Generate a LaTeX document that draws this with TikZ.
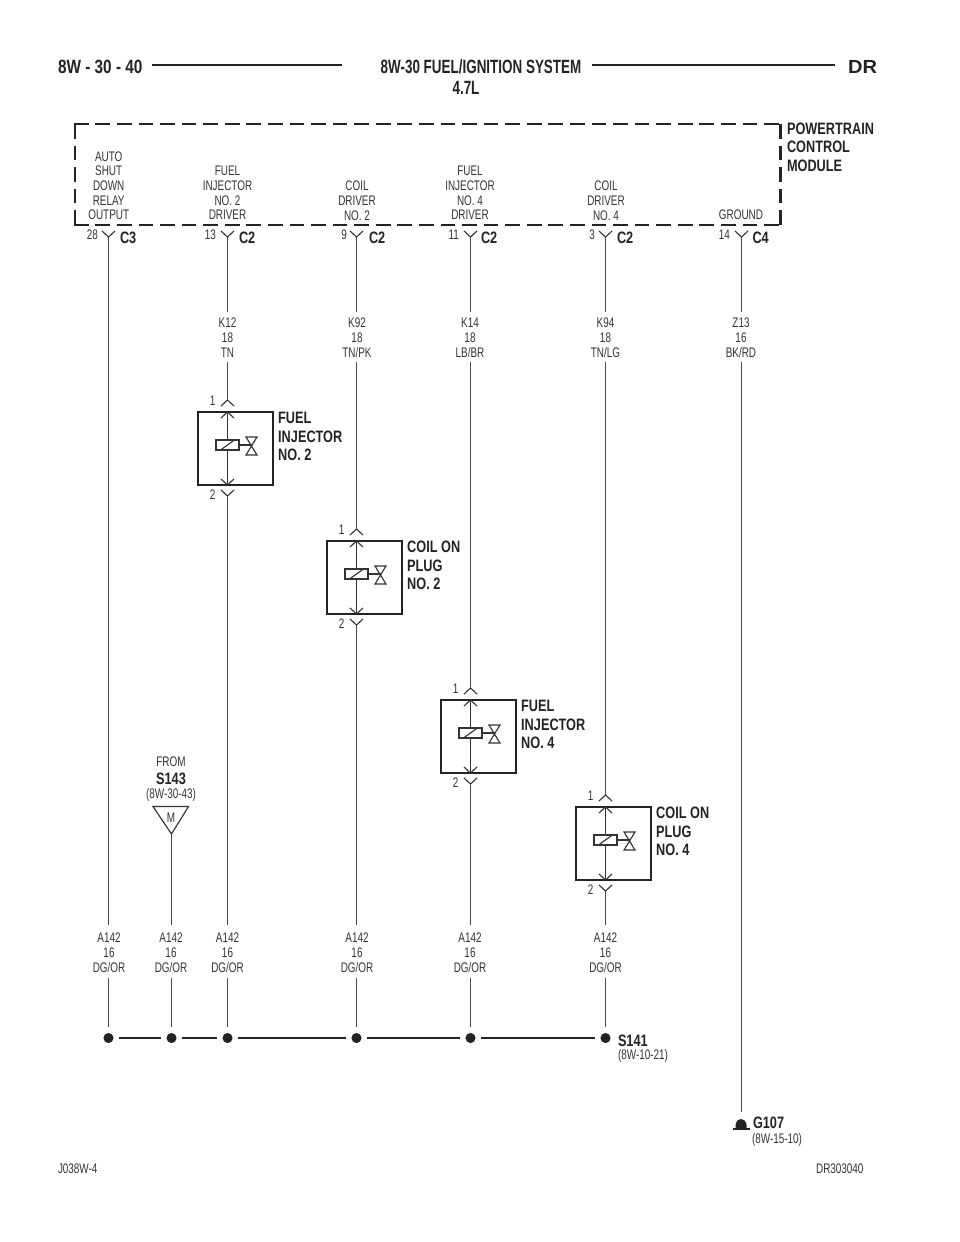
\documentclass[tikz,border=0pt]{standalone}
\usepackage{fontspec}
\setmainfont{Liberation Sans}
\newfontfamily\condfont[FakeStretch=0.77]{Liberation Sans}
\newfontfamily\plainfont[FakeStretch=0.715]{Liberation Sans}
\newfontfamily\titlefont[FakeStretch=0.70]{Liberation Sans}
\newfontfamily\pagefont[FakeStretch=0.80]{Liberation Sans}
\newfontfamily\widefont[FakeStretch=1.06]{Liberation Sans}
\definecolor{inkdark}{HTML}{232323}
\definecolor{inkgrey}{HTML}{333333}
\definecolor{wiregrey}{HTML}{4A4A4A}
\tikzset{
  txt/.style={inner sep=0pt,outer sep=0pt,align=center,text=inkgrey,font=\plainfont\fontsize{10.4pt}{11pt}\selectfont},
  pinlab/.style={inner sep=0pt,outer sep=0pt,anchor=east,text=inkgrey,font=\plainfont\fontsize{10.4pt}{11pt}\selectfont},
  bold/.style={inner sep=0pt,outer sep=0pt,align=left,anchor=west,text=inkdark,font=\condfont\bfseries\fontsize{12.4pt}{13.8pt}\selectfont},
  title/.style={inner sep=0pt,outer sep=0pt,text=inkdark,font=\titlefont\bfseries\fontsize{14.4pt}{16pt}\selectfont},
  small/.style={inner sep=0pt,outer sep=0pt,anchor=west,text=inkgrey,font=\plainfont\fontsize{10.4pt}{11pt}\selectfont},
  wire/.style={draw=wiregrey,line width=1.4pt},
  thin part/.style={draw=inkgrey,line width=.85pt},
  devbox/.style={draw=inkdark,line width=1.6pt},
  headline/.style={draw=inkdark,line width=1.7pt},
  busline/.style={draw=inkdark,line width=1.8pt},
  modbox/.style={draw=inkdark,line width=1.9pt,dash pattern=on 11.03pt off 5.15pt},
  dot/.style={circle,fill=inkdark,draw=none,minimum size=7.6pt,inner sep=0pt},
  splicebus/.style={busline,shorten <=4pt,shorten >=4pt}
}
% module connector: name, wire x, pin, connector label x, pin right end, connector name
\newcommand\modconn[6]{%
  \coordinate (#1) at (#2,237);
  \draw[thin part] (#2-6.5,231) -- (#1) -- (#2+6.5,231);
  \node[pinlab] (#1pin) at (#5,235) {#3};
  \node[bold] (#1conn) at (#4,237.5) {#6};
}
% device: name, wire x, box top, label
\newcommand\device[4]{%
  \pgfmathsetmacro\dl{#2-29.5}\pgfmathsetmacro\dr{#2+45.5}\pgfmathsetmacro\db{#3+73}
  \coordinate (#1in) at (#2,#3-12);
  \coordinate (#1out) at (#2,#3+84);
  \coordinate (#1t) at (#2,#3);
  \coordinate (#1b) at (#2,\db);
  \draw[devbox] (\dl,#3) rectangle (\dr,\db);
  \draw[thin part] (#2-6.5,#3-6) -- (#1in) -- (#2+6.5,#3-6);
  \draw[thin part] (#2-6.5,#3+78) -- (#1out) -- (#2+6.5,#3+78);
  \draw[thin part] (#1t) -- (#1b);
  \draw[thin part] (#2-6.5,#3+6) -- (#1t) -- (#2+6.5,#3+6);
  \draw[thin part] (#2-6.5,#3+67) -- (#1b) -- (#2+6.5,#3+67);
  \draw[thin part,fill=white] (#2-11.5,#3+28) rectangle (#2+11.5,#3+38);
  \draw[thin part] (#2-7,#3+38) -- (#2+7,#3+28);
  \draw[thin part] (#2+11.5,#3+33) -- (#2+24,#3+33);
  \draw[thin part] (#2+18.5,#3+25) -- (#2+29.5,#3+25) -- (#2+18.5,#3+43) -- (#2+29.5,#3+43) -- cycle;
  \node[pinlab] (#1p1) at (#2-12,#3-11) {1};
  \node[pinlab] (#1p2) at (#2-12,#3+83) {2};
  \node[bold] (#1lab) at (#2+50.7,#3+24.5) {#4};
}
\begin{document}
\begin{tikzpicture}[x=.75pt,y=-.75pt]
\useasboundingbox (0,0) rectangle (960,1242);
% header
\node[title,anchor=west,font=\pagefont\bfseries\fontsize{14.4pt}{16pt}\selectfont] (hpage) at (58,66.5) {8W - 30 - 40};
\node[title] (htitle) at (481,66.5) {8W-30 FUEL/IGNITION SYSTEM};
\node[title] (hsub) at (466,88) {4.7L};
\node[inner sep=0pt,outer sep=0pt,anchor=west,text=inkdark,font=\widefont\bfseries\fontsize{14.2pt}{16pt}\selectfont] (hdr) at (848,66.5) {DR};
\coordinate (hl1a) at (152,65); \coordinate (hl1b) at (342,65);
\coordinate (hl2a) at (592,65); \coordinate (hl2b) at (835,65);
\draw[headline] (hl1a) -- (hl1b);
\draw[headline] (hl2a) -- (hl2b);
% module
\coordinate (ma) at (75,124); \coordinate (mb) at (780.5,124);
\coordinate (mc) at (780.5,225); \coordinate (md) at (75,225);
\draw[modbox] (73.8,124) -- (781.7,124);
\draw[modbox] (73.8,225) -- (781.7,225);
\draw[modbox] (ma) -- (md);
\draw[modbox] (mb) -- (mc);
\node[bold,anchor=north west] (pcm) at (787,123) {POWERTRAIN\\CONTROL\\MODULE};
\node[txt] (f1) at (108.7,185.6) {AUTO\\SHUT\\DOWN\\RELAY\\OUTPUT};
\node[txt] (f2) at (227.5,193) {FUEL\\INJECTOR\\NO. 2\\DRIVER};
\node[txt] (f3) at (357,200.6) {COIL\\DRIVER\\NO. 2};
\node[txt] (f4) at (470,193) {FUEL\\INJECTOR\\NO. 4\\DRIVER};
\node[txt] (f5) at (606,200.6) {COIL\\DRIVER\\NO. 4};
\node[txt] (f6) at (741,215) {GROUND};
% connectors at module
\modconn{ca}{108.5}{28}{120}{98}{C3}
\modconn{cb}{227.5}{13}{239}{216}{C2}
\modconn{cc}{356.5}{9}{369}{347}{C2}
\modconn{cd}{470.5}{11}{481}{459}{C2}
\modconn{ce}{605.5}{3}{617}{595}{C2}
\modconn{cf}{741.5}{14}{752.5}{730}{C4}
% upper wire labels
\node[txt] (wb) at (227.5,337.7) {K12\\18\\TN};
\node[txt] (wc) at (357,337.7) {K92\\18\\TN/PK};
\node[txt] (wd) at (470,337.7) {K14\\18\\LB/BR};
\node[txt] (we) at (605.5,337.7) {K94\\18\\TN/LG};
\node[txt] (wf) at (741,337.7) {Z13\\16\\BK/RD};
% devices
\device{dia}{227.5}{412}{FUEL\\INJECTOR\\NO. 2}
\device{dib}{356.5}{541}{COIL ON\\PLUG\\NO. 2}
\device{dic}{470.5}{700}{FUEL\\INJECTOR\\NO. 4}
\device{did}{605.5}{807}{COIL ON\\PLUG\\NO. 4}
% lower wire labels
\node[txt] (la) at (109,952.7) {A142\\16\\DG/OR};
\node[txt] (lm) at (171,952.7) {A142\\16\\DG/OR};
\node[txt] (lb) at (227.5,952.7) {A142\\16\\DG/OR};
\node[txt] (lc) at (357,952.7) {A142\\16\\DG/OR};
\node[txt] (ld) at (470,952.7) {A142\\16\\DG/OR};
\node[txt] (le) at (605.5,952.7) {A142\\16\\DG/OR};
% from S143
\node[txt] (from) at (171,762) {FROM};
\node[bold,anchor=center] (s143) at (171,779) {S143};
\node[txt] (sref) at (171,794.5) {(8W-30-43)};
\coordinate (tria) at (153,806.5); \coordinate (trib) at (188.5,806.5); \coordinate (tric) at (171.5,834);
\draw[thin part] (tria) -- (trib) -- (tric) -- cycle;
\node[txt] (mnode) at (171,818) {M};
% splice
\foreach \n/\x in {sa/108.5,sm/171.5,sb/227.5,sc/356.5,sd/470.5,se/605.5}{\node[dot] (\n) at (\x,1038) {};}
\draw[splicebus] (sa) -- (sm);
\draw[splicebus] (sm) -- (sb);
\draw[splicebus] (sb) -- (sc);
\draw[splicebus] (sc) -- (sd);
\draw[splicebus] (sd) -- (se);
\node[bold] (s141) at (618,1041) {S141};
\node[small] (s141r) at (618,1056) {(8W-10-21)};
% ground
\coordinate (gnd) at (741,1129);
\coordinate (gtop) at (741.5,1112);
\fill[inkdark] (735.5,1128) -- (735.5,1124.5) arc[start angle=180,end angle=360,radius=5.5] -- (746.5,1128) -- cycle;
\draw[busline] (732.5,1129) -- (749.5,1129);
\node[bold] (g107) at (753,1123) {G107};
\node[small] (g107r) at (752,1140) {(8W-15-10)};
% footer
\node[small] (jref) at (58,1169) {J038W-4};
\node[small,anchor=east] (drref) at (863.5,1169) {DR303040};
% wires
\coordinate (ga) at (108.5,925);
\draw[wire] (ca) -- (ga);
\draw[wire] (108.5,978) -- ([yshift=4.5pt]sa.north);
\draw[wire] (cb) -- (227.5,311.7);
\draw[wire] (227.5,362) -- (diain);
\draw[wire] (diaout) -- (227.5,925);
\draw[wire] (227.5,978) -- ([yshift=4.5pt]sb.north);
\draw[wire] (cc) -- (356.5,311.7);
\draw[wire] (356.5,362) -- (dibin);
\draw[wire] (dibout) -- (356.5,925);
\draw[wire] (356.5,978) -- ([yshift=4.5pt]sc.north);
\draw[wire] (cd) -- (470.5,311.7);
\draw[wire] (470.5,362) -- (dicin);
\draw[wire] (dicout) -- (470.5,925);
\draw[wire] (470.5,978) -- ([yshift=4.5pt]sd.north);
\draw[wire] (ce) -- (605.5,311.7);
\draw[wire] (605.5,362) -- (didin);
\draw[wire] (didout) -- (605.5,925);
\draw[wire] (605.5,978) -- ([yshift=4.5pt]se.north);
\draw[wire] (cf) -- (741.5,311.7);
\draw[wire] (741.5,362) -- (gtop);
\draw[wire] (tric) -- (171.5,925);
\draw[wire] (171.5,978) -- ([yshift=4.5pt]sm.north);
\end{tikzpicture}
\end{document}
